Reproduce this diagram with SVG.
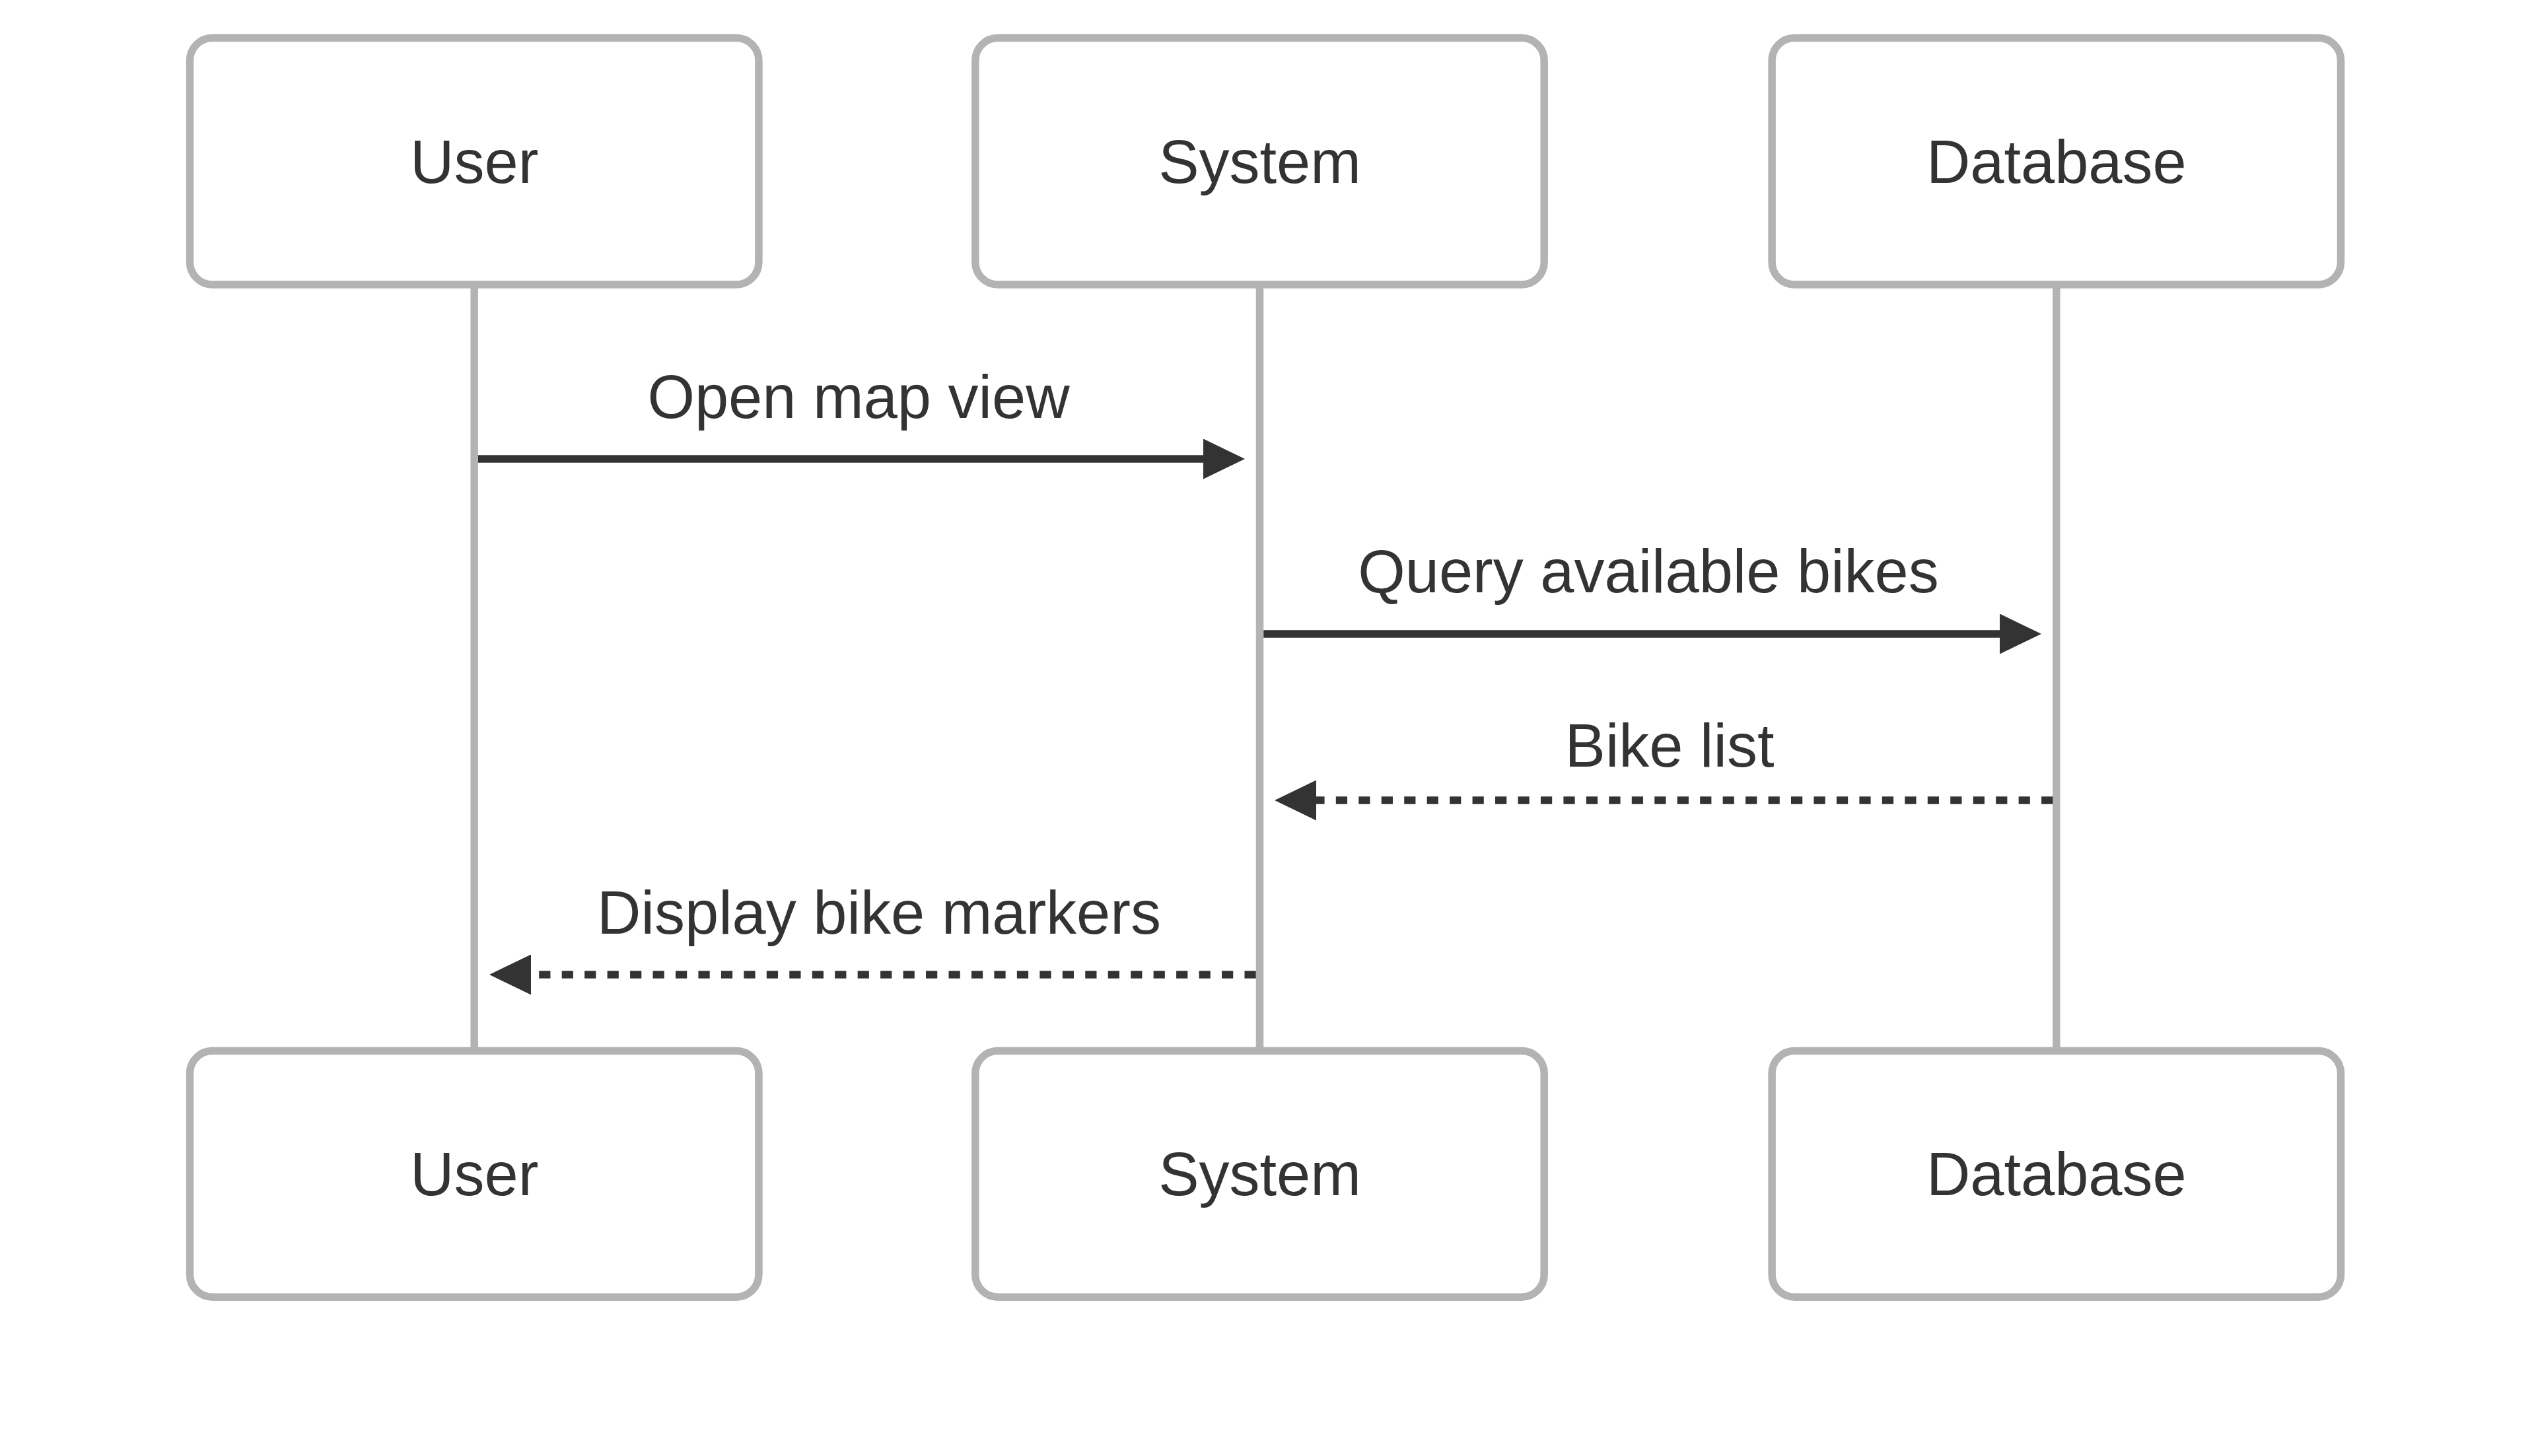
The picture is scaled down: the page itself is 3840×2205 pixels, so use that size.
<svg xmlns="http://www.w3.org/2000/svg" width="3840" height="2205" viewBox="0 0 3840 2205">
<style>
.actor{fill:#ffffff;stroke:#b3b3b3;stroke-width:11.5}
.life{stroke:#b3b3b3;stroke-width:11.5;fill:none}
.lbl{font-family:"Liberation Sans",Arial,sans-serif;font-size:92px;fill:#333333;text-anchor:middle}
.msg{stroke:#333333;stroke-width:11.5;fill:none}
.dash{stroke-dasharray:17.23 17.23}
</style>
<defs>
<marker id="ah" markerUnits="userSpaceOnUse" viewBox="0 0 63 61" markerWidth="63" markerHeight="61" refX="5" refY="30.5" orient="auto">
<path d="M0,0 L63,30.5 L0,61 z" fill="#333333"/>
</marker>
</defs>
<rect width="3840" height="2205" fill="#ffffff"/>
<g id="lifelines">
<line class="life" x1="718.2" y1="431" x2="718.2" y2="1591.5"/>
<line class="life" x1="1907.5" y1="431" x2="1907.5" y2="1591.5"/>
<line class="life" x1="3113.8" y1="431" x2="3113.8" y2="1591.5"/>
</g>
<g id="actor-user-top"><rect class="actor" x="287.5" y="57.5" width="861.4" height="373.5" rx="34"/><text class="lbl" x="718.2" y="277">User</text></g>
<g id="actor-system-top"><rect class="actor" x="1476.8" y="57.5" width="861.4" height="373.5" rx="34"/><text class="lbl" x="1907.5" y="277">System</text></g>
<g id="actor-database-top"><rect class="actor" x="2683.1" y="57.5" width="861.4" height="373.5" rx="34"/><text class="lbl" x="3113.8" y="277">Database</text></g>
<g id="actor-user-bottom"><rect class="actor" x="287.5" y="1591.5" width="861.4" height="372.7" rx="34"/><text class="lbl" x="718.2" y="1810">User</text></g>
<g id="actor-system-bottom"><rect class="actor" x="1476.8" y="1591.5" width="861.4" height="372.7" rx="34"/><text class="lbl" x="1907.5" y="1810">System</text></g>
<g id="actor-database-bottom"><rect class="actor" x="2683.1" y="1591.5" width="861.4" height="372.7" rx="34"/><text class="lbl" x="3113.8" y="1810">Database</text></g>
<g id="connectors">
<line class="msg" x1="724" y1="695" x2="1827" y2="695" marker-end="url(#ah)"/>
<text class="lbl" x="1300" y="633">Open map view</text>
<line class="msg" x1="1913.3" y1="960" x2="3033" y2="960" marker-end="url(#ah)"/>
<text class="lbl" x="2496" y="897">Query available bikes</text>
<line class="msg dash" x1="3108.3" y1="1212" x2="1988" y2="1212" marker-end="url(#ah)"/>
<text class="lbl" x="2528" y="1161">Bike list</text>
<line class="msg dash" x1="1901.7" y1="1476" x2="799" y2="1476" marker-end="url(#ah)"/>
<text class="lbl" x="1331" y="1414">Display bike markers</text>
</g>
</svg>
